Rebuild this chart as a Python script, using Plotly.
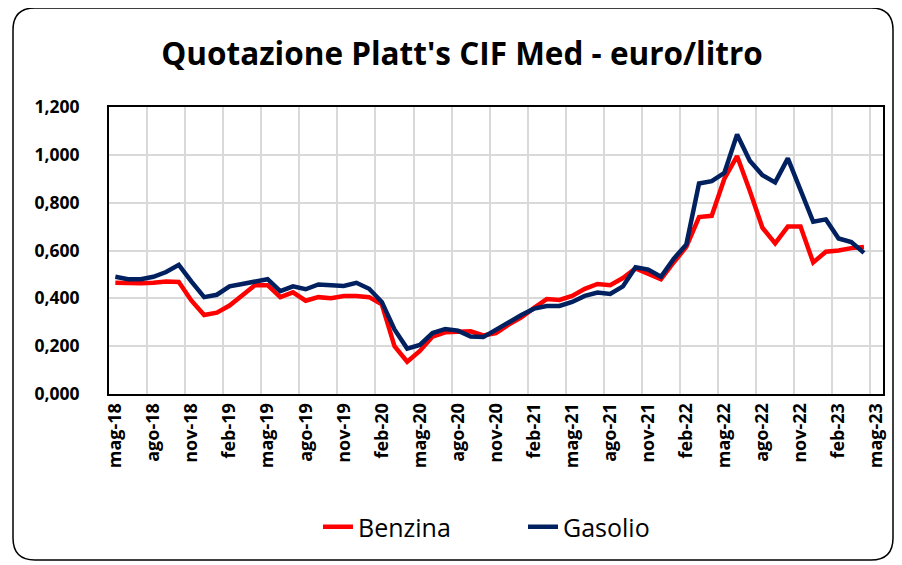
import plotly.graph_objects as go

# ---- data (monthly, mag-18 .. apr-23) ----
benzina = [0.465, 0.463, 0.463, 0.465, 0.470, 0.468, 0.390, 0.330, 0.340, 0.370,
           0.410, 0.455, 0.455, 0.405, 0.425, 0.390, 0.405, 0.400, 0.410, 0.410,
           0.405, 0.375, 0.200, 0.135, 0.180, 0.240, 0.258, 0.262, 0.262, 0.245,
           0.255, 0.290, 0.320, 0.360, 0.397, 0.393, 0.410, 0.440, 0.460, 0.455,
           0.485, 0.525, 0.505, 0.480, 0.550, 0.615, 0.740, 0.745, 0.900, 0.995,
           0.850, 0.695, 0.630, 0.700, 0.700, 0.550, 0.595, 0.600, 0.610, 0.615]
gasolio = [0.490, 0.480, 0.480, 0.490, 0.510, 0.540, 0.470, 0.405, 0.415, 0.450,
           0.460, 0.470, 0.480, 0.430, 0.450, 0.438, 0.458, 0.455, 0.452, 0.465,
           0.440, 0.385, 0.270, 0.190, 0.205, 0.255, 0.272, 0.265, 0.240, 0.238,
           0.270, 0.300, 0.330, 0.357, 0.368, 0.368, 0.385, 0.410, 0.424, 0.418,
           0.450, 0.530, 0.520, 0.490, 0.565, 0.625, 0.880, 0.890, 0.925, 1.085,
           0.975, 0.915, 0.885, 0.985, 0.850, 0.720, 0.730, 0.650, 0.635, 0.590]
tick_labels = ["mag-18", "ago-18", "nov-18", "feb-19", "mag-19", "ago-19", "nov-19",
               "feb-20", "mag-20", "ago-20", "nov-20", "feb-21", "mag-21", "ago-21",
               "nov-21", "feb-22", "mag-22", "ago-22", "nov-22", "feb-23", "mag-23"]
y_ticks = [0.0, 0.2, 0.4, 0.6, 0.8, 1.0, 1.2]

months = list(range(len(benzina)))
tick_step = 3
tick_pos = [i * tick_step for i in range(len(tick_labels))]

W, H = 902, 565
OFF = 8  # page body margin
PLOT_L, PLOT_R, PLOT_T, PLOT_B = 109, 883, 107, 394  # target screen pixels
L = PLOT_L - OFF
T = PLOT_T - OFF
R = W - (PLOT_R - OFF)
B = H - (PLOT_B - OFF)

fig = go.Figure()
fig.add_trace(go.Scatter(x=months, y=benzina, mode="lines", name="Benzina",
                         line=dict(color="#FF0000", width=4.5)))
fig.add_trace(go.Scatter(x=months, y=gasolio, mode="lines", name="Gasolio",
                         line=dict(color="#002060", width=4.5)))

def P(x, y):
    a = (x - PLOT_L) / (PLOT_R - PLOT_L)
    b = (PLOT_B - y) / (PLOT_B - PLOT_T)
    return f"{a:.5f},{b:.5f}"

# rounded outer border (screen pixels)
x0, y0, x1, y1, r = 13, 8, 893, 560, 22
path = (f"M {P(x0 + r, y0)} L {P(x1 - r, y0)} Q {P(x1, y0)} {P(x1, y0 + r)} "
        f"L {P(x1, y1 - r)} Q {P(x1, y1)} {P(x1 - r, y1)} "
        f"L {P(x0 + r, y1)} Q {P(x0, y1)} {P(x0, y1 - r)} "
        f"L {P(x0, y0 + r)} Q {P(x0, y0)} {P(x0 + r, y0)} Z")
fig.add_shape(type="path", path=path, xref="paper", yref="paper",
              line=dict(color="black", width=1.5), layer="below")

def px_x(x):
    return (x - PLOT_L) / (PLOT_R - PLOT_L)

def px_y(y):
    return (PLOT_B - y) / (PLOT_B - PLOT_T)

fig.update_layout(
    width=W, height=H,
    margin=dict(l=L, r=R, t=T, b=B),
    paper_bgcolor="white", plot_bgcolor="white",
    title=dict(text="<b>Quotazione Platt's CIF Med - euro/litro</b>",
               x=(462 - OFF) / W, xanchor="center", y=1 - (54 - OFF) / H, yanchor="middle",
               font=dict(family="Open Sans", size=31.5, color="black")),
    font=dict(family="Open Sans", color="black"),
    showlegend=True,
    legend=dict(orientation="h", x=px_x(318), xanchor="left", y=px_y(527), yanchor="middle",
                font=dict(family="Open Sans", size=25, color="black"),
                entrywidth=160, entrywidthmode="pixels"),
)
fig.update_xaxes(
    range=[-0.5, len(benzina) + 0.5],
    tickmode="array", tickvals=tick_pos, ticktext=[f"<b>{t}</b>" for t in tick_labels],
    tickangle=-90, tickfont=dict(size=18, family="Open Sans", color="black"),
    showgrid=False, zeroline=False,
    showline=True, linecolor="black", linewidth=2, mirror=True,
    ticks="",
    minor=dict(tick0=-0.5, dtick=tick_step, showgrid=True, gridcolor="#D9D9D9", gridwidth=2, ticks=""),
)
fig.update_yaxes(
    range=[0, 1.2],
    tickmode="array", tickvals=y_ticks,
    ticktext=[f"<b>{v:.3f}</b>".replace(".", ",") for v in y_ticks],
    tickfont=dict(size=17.5, family="Open Sans", color="black"),
    showgrid=True, gridcolor="#D9D9D9", gridwidth=2, zeroline=False,
    showline=True, linecolor="black", linewidth=2, mirror=True,
    ticks="", ticklabelstandoff=24,
)

fig.write_html("out.html")
